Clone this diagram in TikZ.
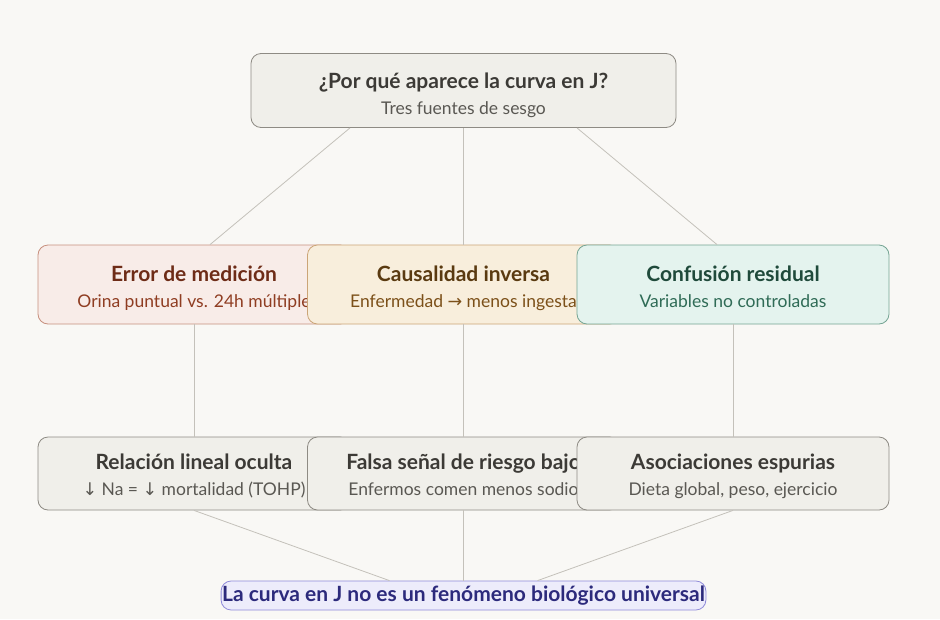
\documentclass[tikz,border=0pt]{standalone}
\usepackage{fontspec}
\setmainfont{Lato}
\newfontfamily\arrowfont{DejaVu Sans}
\definecolor{paper}{HTML}{F9F8F5}
\definecolor{link}{HTML}{C4C1BA}
\definecolor{greyfill}{HTML}{F0EFEA}
\definecolor{greyline}{HTML}{8E8B84}
\definecolor{greyhead}{HTML}{3C3A36}
\definecolor{greysub}{HTML}{5A5853}
\definecolor{redfill}{HTML}{F8ECE8}
\definecolor{redline}{HTML}{C7907E}
\definecolor{redhead}{HTML}{6E2C17}
\definecolor{redsub}{HTML}{8F3D22}
\definecolor{sandfill}{HTML}{F8EEDC}
\definecolor{sandline}{HTML}{CBA577}
\definecolor{sandhead}{HTML}{5A3A10}
\definecolor{sandsub}{HTML}{7C5019}
\definecolor{mintfill}{HTML}{E4F3EE}
\definecolor{mintline}{HTML}{74A493}
\definecolor{minthead}{HTML}{1F4A3B}
\definecolor{mintsub}{HTML}{2F6B56}
\definecolor{lilacfill}{HTML}{EDECFB}
\definecolor{lilacline}{HTML}{8F8AD9}
\definecolor{lilactext}{HTML}{2C2A7C}
\newcommand{\headline}[2][26.4pt]{{\bfseries\rule{0pt}{#1}#2}}
\newcommand{\subline}[1]{{\fontsize{17.5}{26}\selectfont\rule[-6pt]{0pt}{6pt}#1}}
\newcommand{\dn}{{\arrowfont\char"2193}}
\newcommand{\rt}{{\arrowfont\char"2192}}
\begin{document}
\begin{tikzpicture}[x = 1pt, y = -1pt,
	box/.style = {draw, rounded corners = 10pt, line width = .8pt, minimum width = 312pt, align = center, font = \fontsize{21}{26}\selectfont},
	plain/.style = {box, fill = greyfill, draw = greyline, text = greyhead},
	link/.style = {draw = link, line width = .8pt}]
	\fill[paper] (0,0) rectangle (940,619);
	\useasboundingbox (0,0) rectangle (940,619);
	% pregunta
	\node[plain, minimum width = 425pt, minimum height = 74pt] (top) at (463.5,90.5) {\headline[27pt]{¿Por qué aparece la curva en J?}\\\subline{\color{greysub}Tres fuentes de sesgo}};
	% tres fuentes
	\node[box, fill = redfill, draw = redline, text = redhead, minimum height = 79pt] (err) at (194,284.5) {\headline{Error de medición}\\\subline{\color{redsub}Orina puntual vs. 24h múltiple}};
	\node[box, fill = sandfill, draw = sandline, text = sandhead, minimum height = 79pt] (caus) at (463.5,284.5) {\headline{Causalidad inversa}\\\subline{\color{sandsub}Enfermedad \rt{} menos ingesta}};
	\node[box, fill = mintfill, draw = mintline, text = minthead, minimum height = 79pt] (conf) at (733,284.5) {\headline{Confusión residual}\\\subline{\color{mintsub}Variables no controladas}};
	% consecuencias
	\node[plain, minimum height = 73pt] (ocul) at (194,473.5) {\headline[23.6pt]{Relación lineal oculta}\\\subline{\color{greysub}\dn{} Na = \dn{} mortalidad (TOHP)}};
	\node[plain, minimum height = 73pt] (fals) at (463.5,473.5) {\headline[23.6pt]{Falsa señal de riesgo bajo}\\\subline{\color{greysub}Enfermos comen menos sodio}};
	\node[plain, minimum height = 73pt] (espu) at (733,473.5) {\headline[23.6pt]{Asociaciones espurias}\\\subline{\color{greysub}Dieta global, peso, ejercicio}};
	% conclusion
	\node[draw = lilacline, fill = lilacfill, text = lilactext, rounded corners = 10pt, line width = .8pt, inner xsep = 1pt, inner ysep = 0pt, minimum height = 29pt, font = \fontsize{21}{24}\selectfont\bfseries] (fin) at (463.5,595.5) {La curva en J no es un fenómeno biológico universal};
	\draw[link] ([xshift = -113.5pt]top.south) -- ([xshift = 16pt]err.north);
	\draw[link] (top.south) -- (caus.north);
	\draw[link] ([xshift = 113.5pt]top.south) -- ([xshift = -16pt]conf.north);
	\draw[link] (err.south) -- (ocul.north);
	\draw[link] (caus.south) -- (fals.north);
	\draw[link] (conf.south) -- (espu.north);
	\draw[link] (ocul.south) -- ([xshift = -74pt]fin.north);
	\draw[link] (fals.south) -- (fin.north);
	\draw[link] (espu.south) -- ([xshift = 74pt]fin.north);
\end{tikzpicture}
\end{document}
